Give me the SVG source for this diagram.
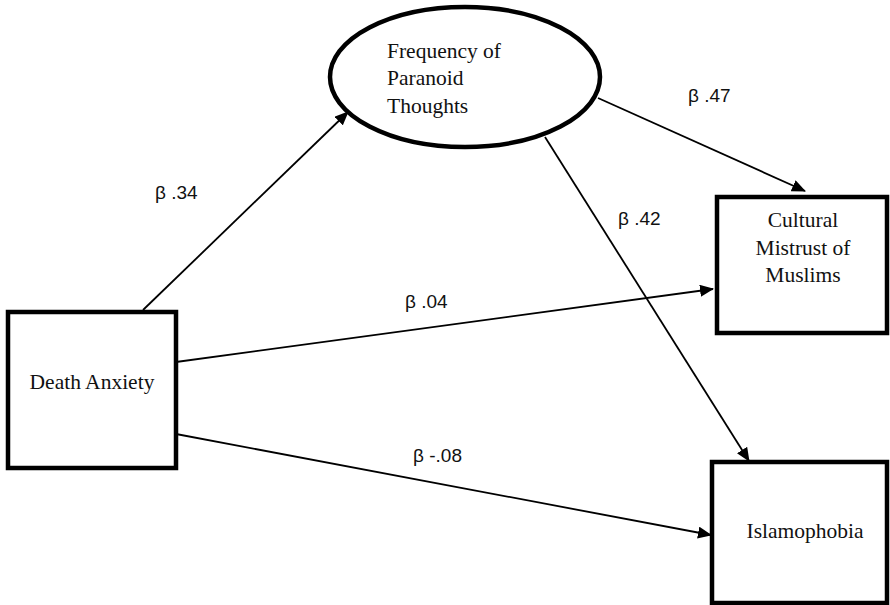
<svg xmlns="http://www.w3.org/2000/svg" width="890" height="605" viewBox="0 0 890 605">
<style>
.node{fill:#fff;stroke:#000;stroke-width:4.5}
.t{font-family:"Liberation Serif","Times New Roman",serif;font-size:21.5px;fill:#111}
.l{font-family:"Liberation Sans",Arial,sans-serif;font-size:19px;fill:#111}
.c{text-anchor:middle}
.edge{stroke:#000;stroke-width:1.8;fill:none;marker-end:url(#ah)}
</style>
<defs>
<marker id="ah" markerUnits="userSpaceOnUse" markerWidth="14" markerHeight="12" viewBox="0 0 14 12" refX="13" refY="6" orient="auto">
<path d="M0,0 L14,6 L0,12 Z" fill="#000"/>
</marker>
</defs>
<rect width="890" height="605" fill="#fff"/>
<g id="n-paranoid">
<ellipse class="node" cx="465" cy="77" rx="135" ry="70"/>
<text class="t" x="387" y="58">Frequency of</text>
<text class="t" x="387" y="85">Paranoid</text>
<text class="t" x="387" y="113">Thoughts</text>
</g>
<g id="n-death">
<rect class="node" x="8" y="312" width="168" height="156"/>
<text class="t c" x="92" y="389">Death Anxiety</text>
</g>
<g id="n-cultural">
<rect class="node" x="717" y="197" width="170" height="136"/>
<text class="t c" x="803" y="227">Cultural</text>
<text class="t c" x="803" y="255">Mistrust of</text>
<text class="t c" x="803" y="282">Muslims</text>
</g>
<g id="n-islam">
<rect class="node" x="712" y="462" width="175" height="141"/>
<text class="t c" x="805" y="538">Islamophobia</text>
</g>
<g id="connectors">
<line class="edge" x1="143" y1="310" x2="348" y2="112"/>
<line class="edge" x1="176" y1="362" x2="713" y2="289"/>
<line class="edge" x1="176" y1="434" x2="711" y2="535"/>
<line class="edge" x1="598" y1="98" x2="805" y2="191"/>
<line class="edge" x1="545" y1="137" x2="749" y2="461"/>
</g>
<g id="labels">
<text class="l" x="155" y="199">β .34</text>
<text class="l" x="688" y="102">β .47</text>
<text class="l" x="618" y="225">β .42</text>
<text class="l" x="405" y="308">β .04</text>
<text class="l" x="413" y="462">β -.08</text>
</g>
</svg>
